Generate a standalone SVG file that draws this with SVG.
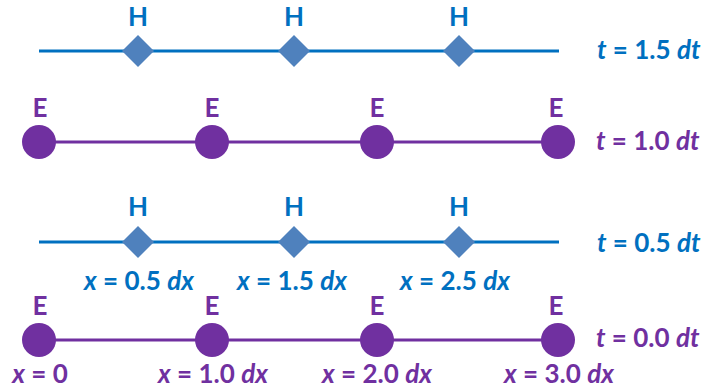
<svg xmlns="http://www.w3.org/2000/svg" width="705" height="392" viewBox="0 0 705 392">
<style>
text{font-family:Lato,"Open Sans","Liberation Sans",sans-serif;font-weight:bold;font-size:26px}
.b{fill:#0070C0}
.p{fill:#7030A0}
.c{text-anchor:middle}
.i{font-style:italic}
.hl{stroke:#0070C0;stroke-width:3;fill:none}
.el{stroke:#7030A0;stroke-width:3;fill:none}
.dm{fill:#4F81BD}
.ci{fill:#7030A0}
</style>
<defs>
<polygon id="dia" points="0,-16 16,0 0,16 -16,0"/>
<circle id="dot" r="17"/>
</defs>
<g id="connectors">
<line class="hl" x1="39" y1="51" x2="559" y2="51"/>
<line class="el" x1="39" y1="142" x2="558" y2="142"/>
<line class="hl" x1="39" y1="242" x2="559" y2="242"/>
<line class="el" x1="39" y1="340" x2="558" y2="340"/>
</g>
<g id="row-t15">
<g id="h15-1"><use href="#dia" class="dm" x="138" y="51"/><text class="b c" x="138" y="26">H</text></g>
<g id="h15-2"><use href="#dia" class="dm" x="294" y="51"/><text class="b c" x="294" y="26">H</text></g>
<g id="h15-3"><use href="#dia" class="dm" x="459" y="51"/><text class="b c" x="459" y="26">H</text></g>
<text class="b" x="597" y="59"><tspan class="i">t</tspan> = 1.5 <tspan class="i">dt</tspan></text>
</g>
<g id="row-t10">
<g id="e10-1"><use href="#dot" class="ci" x="39" y="142"/><text class="p c" x="40" y="117">E</text></g>
<g id="e10-2"><use href="#dot" class="ci" x="212" y="142"/><text class="p c" x="212" y="117">E</text></g>
<g id="e10-3"><use href="#dot" class="ci" x="377" y="142"/><text class="p c" x="377" y="117">E</text></g>
<g id="e10-4"><use href="#dot" class="ci" x="558" y="142"/><text class="p c" x="556" y="117">E</text></g>
<text class="p" x="596" y="150"><tspan class="i">t</tspan> = 1.0 <tspan class="i">dt</tspan></text>
</g>
<g id="row-t05">
<g id="h05-1"><use href="#dia" class="dm" x="138" y="242"/><text class="b c" x="138" y="216">H</text><text class="b c" x="139" y="290"><tspan class="i">x</tspan> = 0.5 <tspan class="i">dx</tspan></text></g>
<g id="h05-2"><use href="#dia" class="dm" x="294" y="242"/><text class="b c" x="294" y="216">H</text><text class="b c" x="292" y="290"><tspan class="i">x</tspan> = 1.5 <tspan class="i">dx</tspan></text></g>
<g id="h05-3"><use href="#dia" class="dm" x="459" y="242"/><text class="b c" x="459" y="216">H</text><text class="b c" x="455" y="290"><tspan class="i">x</tspan> = 2.5 <tspan class="i">dx</tspan></text></g>
<text class="b" x="597" y="252"><tspan class="i">t</tspan> = 0.5 <tspan class="i">dt</tspan></text>
</g>
<g id="row-t00">
<g id="e00-1"><use href="#dot" class="ci" x="39" y="340"/><text class="p c" x="40" y="315">E</text><text class="p c" x="40" y="383"><tspan class="i">x</tspan> = 0</text></g>
<g id="e00-2"><use href="#dot" class="ci" x="212" y="340"/><text class="p c" x="212" y="315">E</text><text class="p c" x="213" y="383"><tspan class="i">x</tspan> = 1.0 <tspan class="i">dx</tspan></text></g>
<g id="e00-3"><use href="#dot" class="ci" x="377" y="340"/><text class="p c" x="377" y="315">E</text><text class="p c" x="377" y="383"><tspan class="i">x</tspan> = 2.0 <tspan class="i">dx</tspan></text></g>
<g id="e00-4"><use href="#dot" class="ci" x="558" y="340"/><text class="p c" x="556" y="315">E</text><text class="p c" x="559" y="383"><tspan class="i">x</tspan> = 3.0 <tspan class="i">dx</tspan></text></g>
<text class="p" x="596" y="347"><tspan class="i">t</tspan> = 0.0 <tspan class="i">dt</tspan></text>
</g>
</svg>
